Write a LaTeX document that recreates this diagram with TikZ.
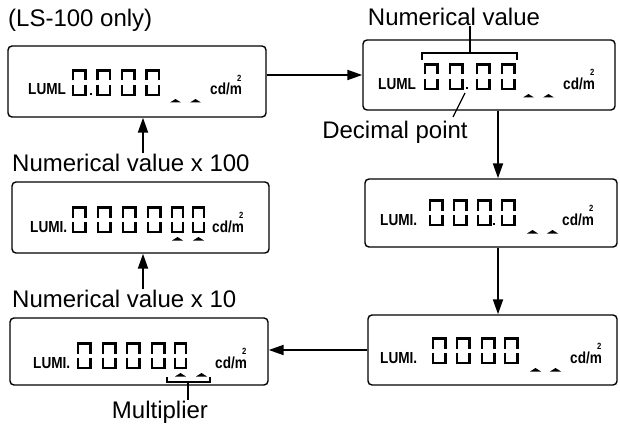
\documentclass[tikz,border=0pt]{standalone}
\usepackage{fontspec}
\setmainfont{Liberation Sans}
\newfontfamily\lcdfont[FakeStretch=0.85]{Liberation Sans}
\usetikzlibrary{arrows.meta}
\newcommand\lcdzero[3][12.5]{%
  \draw[seg] (#2,#3+10) -- (#2,#3) -- (#2+#1,#3) -- (#2+#1,#3+10);
  \draw[seg] (#2,#3+14.5) -- (#2,#3+24.5) -- (#2+#1,#3+24.5) -- (#2+#1,#3+14.5);}
\newcommand\lcdcaret[2]{\fill (#1,#2+3.5) -- (#1+5.5,#2) -- (#1+11,#2+3.5) -- cycle;}
\newcommand\lcddot[2]{\fill (#1-1.4,#2-1.4) rectangle (#1+1.4,#2+1.4);}
\tikzset{
  lcdbox/.style={draw, rounded corners=4pt, line width=1.4pt, inner sep=0pt},
  seg/.style={line width=2.4pt, line cap=butt, line join=miter},
  lum/.style={font=\lcdfont\bfseries\fontsize{16}{16}\selectfont, inner sep=0pt, anchor=base west},
  sq/.style={font=\lcdfont\bfseries\fontsize{9}{9}\selectfont, inner sep=0pt, anchor=south},
  big/.style={font=\fontsize{24}{28}\selectfont, inner sep=0pt},
  arr/.style={line width=1.9pt, -{Triangle[length=15pt,width=10pt]}},
  lead/.style={line width=1.3pt},
}
\begin{document}
\begin{tikzpicture}[x=1pt,y=-1pt]
\useasboundingbox (0,0) rectangle (620,425);
% boxes
\node[lcdbox, minimum width=258pt, minimum height=71pt] (A) at (137,81.5) {};
\node[lcdbox, minimum width=252pt, minimum height=70pt] (B) at (489,75) {};
\node[lcdbox, minimum width=252pt, minimum height=68pt] (C) at (491,213) {};
\node[lcdbox, minimum width=257pt, minimum height=71pt] (D) at (140.5,217.5) {};
\node[lcdbox, minimum width=258pt, minimum height=67pt] (E) at (139,351.5) {};
\node[lcdbox, minimum width=249pt, minimum height=70pt] (F) at (492.5,350) {};
% texts
\node[big, anchor=base west] (ls) at (8,27) {(LS-100 only)};
\node[big, anchor=base] (nv) at (454,26) {Numerical value};
\node[big, anchor=base] (dp) at (395,138) {Decimal point};
\node[big, anchor=base west] (x100) at (12,171) {Numerical value x 100};
\node[big, anchor=base west] (x10) at (12,307) {Numerical value x 10};
\node[big, anchor=base] (mul) at (160,418) {Multiplier};
% box A
\node[lum] (lA) at (28,95) {LUML};
\lcdzero{73}{70.5}\lcdzero{97.5}{70.5}\lcdzero{122}{70.5}\lcdzero{146.5}{70.5}
\lcddot{91}{94}
\lcdcaret{170}{99}\lcdcaret{190}{99}
\node[lum] (cA) at (210,95) {cd/m};
\node[sq] (sA) at ([xshift=-3pt,yshift=1.2pt]cA.north east) {2};
% box B
\node[lum] (lB) at (378,89) {LUML};
\lcdzero{425}{64.5}\lcdzero{450}{64.5}\lcdzero{477}{64.5}\lcdzero{502}{64.5}
\lcddot{467}{88}
\lcdcaret{523}{94}\lcdcaret{543}{94}
\node[lum] (cB) at (563,89) {cd/m};
\node[sq] (sB) at ([xshift=-3pt,yshift=1.2pt]cB.north east) {2};
% box C
\node[lum] (lC) at (380,225) {LUMI.};
\lcdzero{430}{200.5}\lcdzero{454}{200.5}\lcdzero{478}{200.5}\lcdzero{502}{200.5}
\lcddot{494}{224}
\lcdcaret{527}{230}\lcdcaret{547}{230}
\node[lum] (cC) at (562,225) {cd/m};
\node[sq] (sC) at ([xshift=-3pt,yshift=1.2pt]cC.north east) {2};
% box D
\node[lum] (lD) at (30,232) {LUMI.};
\lcdzero{73}{207.5}\lcdzero{98}{207.5}\lcdzero{123}{207.5}\lcdzero{148}{207.5}
\lcdzero[11]{172}{207.5}\lcdzero[11]{193}{207.5}
\lcdcaret{172}{237}\lcdcaret{193}{237}
\node[lum] (cD) at (212,232) {cd/m};
\node[sq] (sD) at ([xshift=-3pt,yshift=1.2pt]cD.north east) {2};
% box E
\node[lum] (lE) at (33,368) {LUMI.};
\lcdzero{78}{343.5}\lcdzero{103}{343.5}\lcdzero{127}{343.5}\lcdzero{152}{343.5}
\lcdzero[11]{175}{343.5}
\lcdcaret{175}{373}\lcdcaret{196}{373}
\node[lum] (cE) at (215,368) {cd/m};
\node[sq] (sE) at ([xshift=-3pt,yshift=1.2pt]cE.north east) {2};
% box F
\node[lum] (lF) at (380,363) {LUMI.};
\lcdzero{433}{338.5}\lcdzero{457}{338.5}\lcdzero{482}{338.5}\lcdzero{505}{338.5}
\lcdcaret{530}{368}\lcdcaret{550}{368}
\node[lum] (cF) at (570,363) {cd/m};
\node[sq] (sF) at ([xshift=-3pt,yshift=1.2pt]cF.north east) {2};
% helper coordinates
\coordinate (vx) at (498,0);
\coordinate (ax) at (143,0);
\coordinate (hy) at (0,350);
\coordinate (dpB) at (465,93);
\coordinate (dpE) at (453,117);
\coordinate (brN) at (470,53);
\coordinate (brM) at (188,382);
% connectors
\draw[arr] (A.east |- B.west) -- (B.west);
\draw[arr] (B.south -| vx) -- (C.north -| vx);
\draw[arr] (C.south -| vx) -- (F.north -| vx);
\draw[arr] (F.west |- hy) -- (E.east |- hy);
\draw[arr] (x10.north -| ax) -- (D.south -| ax);
\draw[arr] (x100.north -| ax) -- (A.south -| ax);
% leaders and brackets
\draw[lead] (nv.south -| brN) -- (brN);
\draw[lead] (422,60) -- (422,53) -- (517,53) -- (517,60);
\draw[lead] (dpB) -- (dpE);
\draw[lead] (167,377) -- (167,382) -- (210,382) -- (210,377);
\draw[lead] (brM) -- (mul.north -| brM);
\end{tikzpicture}
\end{document}
